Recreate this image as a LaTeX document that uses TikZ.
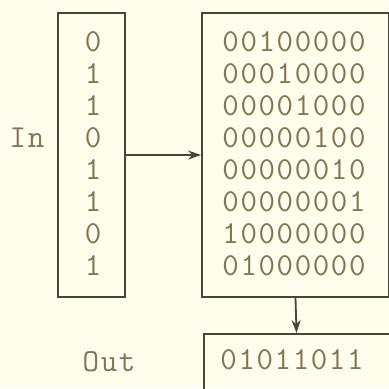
\documentclass[tikz,border=0pt]{standalone}
\usepackage{fontspec}
\setmonofont{Latin Modern Mono}[LetterSpace=5]
\usetikzlibrary{arrows.meta}

\definecolor{paper}{RGB}{255,253,236}
\definecolor{ink}{RGB}{132,116,84}
\definecolor{rule}{RGB}{70,70,54}

\tikzset{
  bitbox/.style={draw=rule, line width=1pt, inner sep=0pt},
  bits/.style={text=ink, inner sep=0pt, font=\ttfamily\fontsize{16}{18}\selectfont},
  flow/.style={draw=rule, line width=0.9pt, -{Stealth[length=6.5pt, width=4.5pt]}}
}

\begin{document}
\begin{tikzpicture}[x=0.5pt, y=-0.5pt]
        \fill[paper] (0,0) rectangle (389,388);
        \useasboundingbox (0,0) rectangle (389,388);

        % ---- input register ----
        \node[bitbox, minimum width=33.5pt, minimum height=142pt] (inreg) at (91.5,155) {};
        \foreach \b [count=\i from 0] in {0,1,1,0,1,1,0,1}
            \node[bits] (in\i) at (93,42+32*\i) {\b};
        \node[bits] (inlabel) at (27,138) {In};

        % ---- permutation matrix ----
        \node[bitbox, minimum width=93.5pt, minimum height=142pt] (perm) at (295.5,155) {};
        \foreach \r [count=\i from 0] in {00100000,00010000,00001000,00000100,
                                          00000010,00000001,10000000,01000000}
            \node[bits] (row\i) at (294,42+32*\i) {\r};

        % ---- output register (runs off the bottom edge) ----
        \node[bitbox, minimum width=93pt, minimum height=29pt] (outreg) at (296.5,363) {};
        \node[bits] (outbits) at (292,360) {01011011};
        \node[bits] (outlabel) at (109,362) {Out};

        % ---- data flow ----
        \draw[flow] (inreg.east) -- (perm.west);
        \draw[flow] (perm.south) -- (outreg.north);
\end{tikzpicture}
\end{document}
